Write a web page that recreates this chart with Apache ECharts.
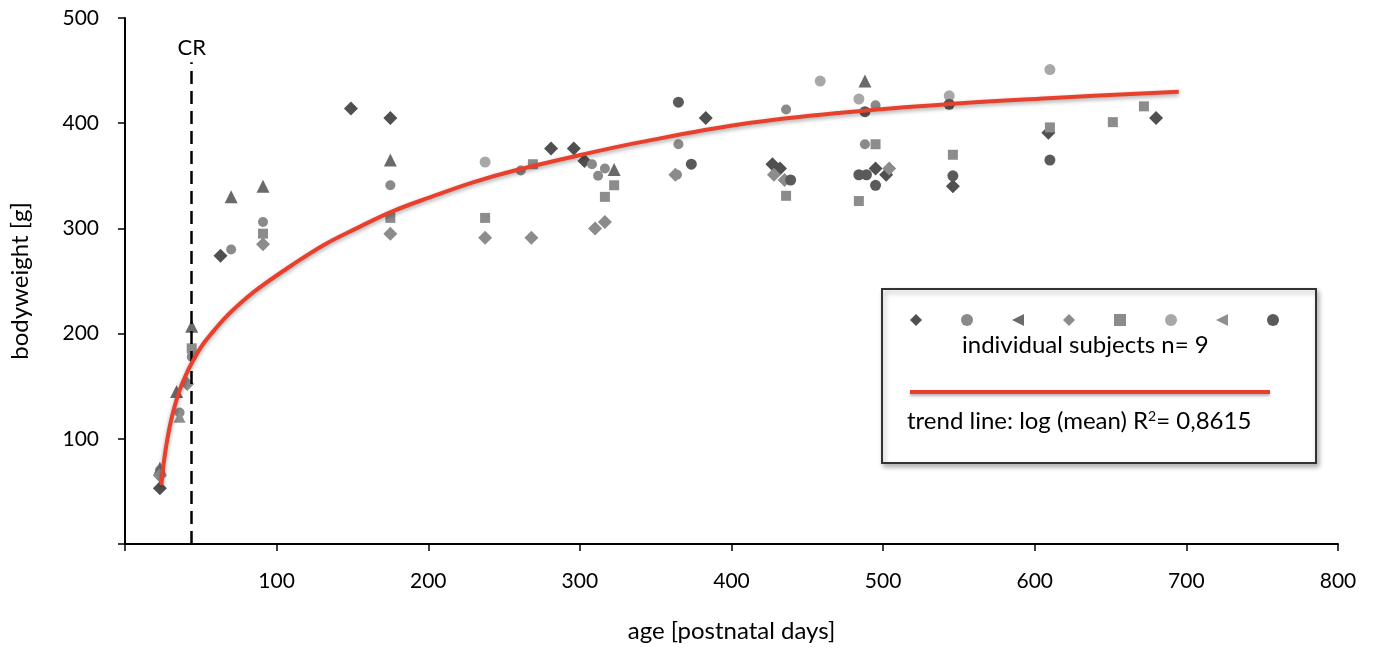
<!DOCTYPE html>
<html>
<head>
<meta charset="utf-8">
<style>html,body{margin:0;padding:0;background:#fff;}#c{width:1375px;height:648px;}</style>
<script src="https://cdn.jsdelivr.net/npm/echarts@6/dist/echarts.min.js"></script>
</head>
<body>
<div id="c"></div>
<script>
// ---- data: [age (days), bodyweight (g)] ----
const darkDiamond = [[23,53],[63,274],[149,414],[175,405],[281,376],[296,376],[303,364],[383,405],[427,361],[432,357],[495,357],[502,351],[546,340],[609,391],[680,405]];
const midCircle = [[23,70],[36,125],[44,178],[70,280],[91,306],[175,341],[261,355],[308,361],[312,350],[316.5,357],[365,380],[364,351],[436,413],[495,417],[488,380]];
const darkTriangle = [[23,72],[34,145],[44,207],[70,330],[91,340],[175,365],[322.6,356],[488,440]];
const lightDiamond = [[23,65],[41,152],[91,285],[175,295],[237.5,291],[268,291],[310,300],[316.5,306],[363,351],[428,351],[435,346],[504,357]];
const squares = [[44,186],[91,295],[175,310],[237.5,310],[269,361],[316.5,330],[322.6,341],[436,331],[484,326],[495,380],[546,370],[610,396],[651.5,401],[672,416]];
const lightCircle = [[237.5,363],[458.5,440],[484,423],[543.6,426],[610,451]];
const lightTriangle = [[36,121]];
const darkCircle = [[365,420],[373.5,361],[439,346],[488,411],[484,351],[489,351],[495,341],[546,350],[543.6,418],[610,365]];
// trend line (log fit of the mean) points
const trend = [[24,56],[26,82],[29,108],[32,127],[36,146],[40,160],[44,172],[50,187],[57,200],[66,215],[77,230],[88,243],[110,265],[132,285],[154,301],[176,316],[202,330],[230,344],[257,355],[301,370],[340,382],[406,399],[472,410],[551,419],[612,424],[695,430]];
const crDay = 44;
const crTop = 458;
const xTicks = [0,100,200,300,400,500,600,700,800];
const yTicks = [0,100,200,300,400,500];

const FONT = 'Lato';
const chart = echarts.init(document.getElementById('c'));
const mk = (name, data, symbol, size, color) => ({
  name, type: 'scatter', data, symbol, symbolSize: size,
  itemStyle: { color, opacity: 1 }, z: 3
});
const series = [
  mk('s1', darkDiamond, 'diamond', 14, '#505050'),
  mk('s2', midCircle, 'circle', 10, '#8a8a8a'),
  mk('s3', darkTriangle, 'triangle', 13, '#6a6a6a'),
  mk('s4', lightDiamond, 'diamond', 14, '#8c8c8c'),
  mk('s5', squares, 'rect', 10, '#8c8c8c'),
  mk('s6', lightCircle, 'circle', 11, '#a8a8a8'),
  mk('s7', lightTriangle, 'triangle', 12, '#8f8f8f'),
  mk('s8', darkCircle, 'circle', 11, '#5a5a5a'),
  {
    name: 'trend', type: 'line', data: trend, smooth: 0.4, symbol: 'none', z: 5,
    lineStyle: { color: '#e8402d', width: 4, shadowColor: 'rgba(0,0,0,0.35)', shadowBlur: 4, shadowOffsetY: 2 },
    markLine: {
      silent: true, symbol: 'none',
      lineStyle: { color: '#000', type: [13, 7], width: 2.5 },
      label: { show: true, position: 'end', formatter: 'CR', color: '#000', fontFamily: FONT, fontSize: 22, distance: 3 },
      data: [[{ coord: [crDay, 0] }, { coord: [crDay, crTop] }]]
    }
  }
];
const leftTri = 'path://M10,0 L10,10 L0,5 Z';
chart.setOption({
  animation: false,
  backgroundColor: '#fff',
  grid: { left: 123, right: 37, top: 18, bottom: 99 },
  xAxis: {
    type: 'value', min: 0, max: 800, interval: 100,
    name: 'age [postnatal days]', nameLocation: 'middle', nameGap: 75,
    nameTextStyle: { color: '#000', fontFamily: FONT, fontSize: 24 },
    axisLine: { show: true, lineStyle: { color: '#000', width: 2 } },
    axisTick: { show: true, inside: false, length: 7, lineStyle: { color: '#000', width: 1.5 } },
    axisLabel: { color: '#000', fontFamily: FONT, fontSize: 21, margin: 27,
      formatter: v => (xTicks.indexOf(v) > 0 ? String(v) : '') },
    splitLine: { show: false }
  },
  yAxis: {
    type: 'value', min: 0, max: 500, interval: 100,
    name: 'bodyweight [g]', nameLocation: 'middle', nameGap: 93, nameRotate: 90,
    nameTextStyle: { color: '#000', fontFamily: FONT, fontSize: 24 },
    axisLine: { show: true, lineStyle: { color: '#000', width: 2 } },
    axisTick: { show: true, inside: false, length: 7, lineStyle: { color: '#000', width: 1.5 } },
    axisLabel: { color: '#000', fontFamily: FONT, fontSize: 21, margin: 26,
      formatter: v => (yTicks.indexOf(v) > 0 ? String(v) : '') },
    splitLine: { show: false }
  },
  legend: {
    left: 905, top: 309, itemWidth: 12, itemHeight: 12, itemGap: 39,
    formatter: () => '',
    selectedMode: false,
    data: [
      { name: 's1', icon: 'diamond' },
      { name: 's2', icon: 'circle' },
      { name: 's3', icon: leftTri },
      { name: 's4', icon: 'diamond' },
      { name: 's5', icon: 'rect' },
      { name: 's6', icon: 'circle' },
      { name: 's7', icon: leftTri },
      { name: 's8', icon: 'circle' }
    ]
  },
  graphic: [
    { type: 'rect', left: 881, top: 288, shape: { width: 434, height: 174 }, z: 1,
      style: { fill: '#fff', stroke: '#333', lineWidth: 2, shadowColor: 'rgba(0,0,0,0.3)', shadowBlur: 5, shadowOffsetX: 2, shadowOffsetY: 3 } },
    { type: 'text', left: 962, top: 333, z: 10,
      style: { text: 'individual subjects n= 9', fill: '#000', font: '24px ' + FONT } },
    { type: 'rect', left: 910, top: 390, shape: { width: 360, height: 4 }, z: 10,
      style: { fill: '#e8402d', shadowColor: 'rgba(0,0,0,0.3)', shadowBlur: 3, shadowOffsetY: 2 } },
    { type: 'text', left: 907, top: 409, z: 10,
      style: { rich: { n: { fill: '#000', font: '24px ' + FONT }, s: { fill: '#000', font: '14px ' + FONT, verticalAlign: 'top', padding: [0,0,10,0] } },
        text: '{n|trend line: log (mean) R}{s|2}{n|= 0,8615}' } }
  ],
  series
});
</script>
</body>
</html>
